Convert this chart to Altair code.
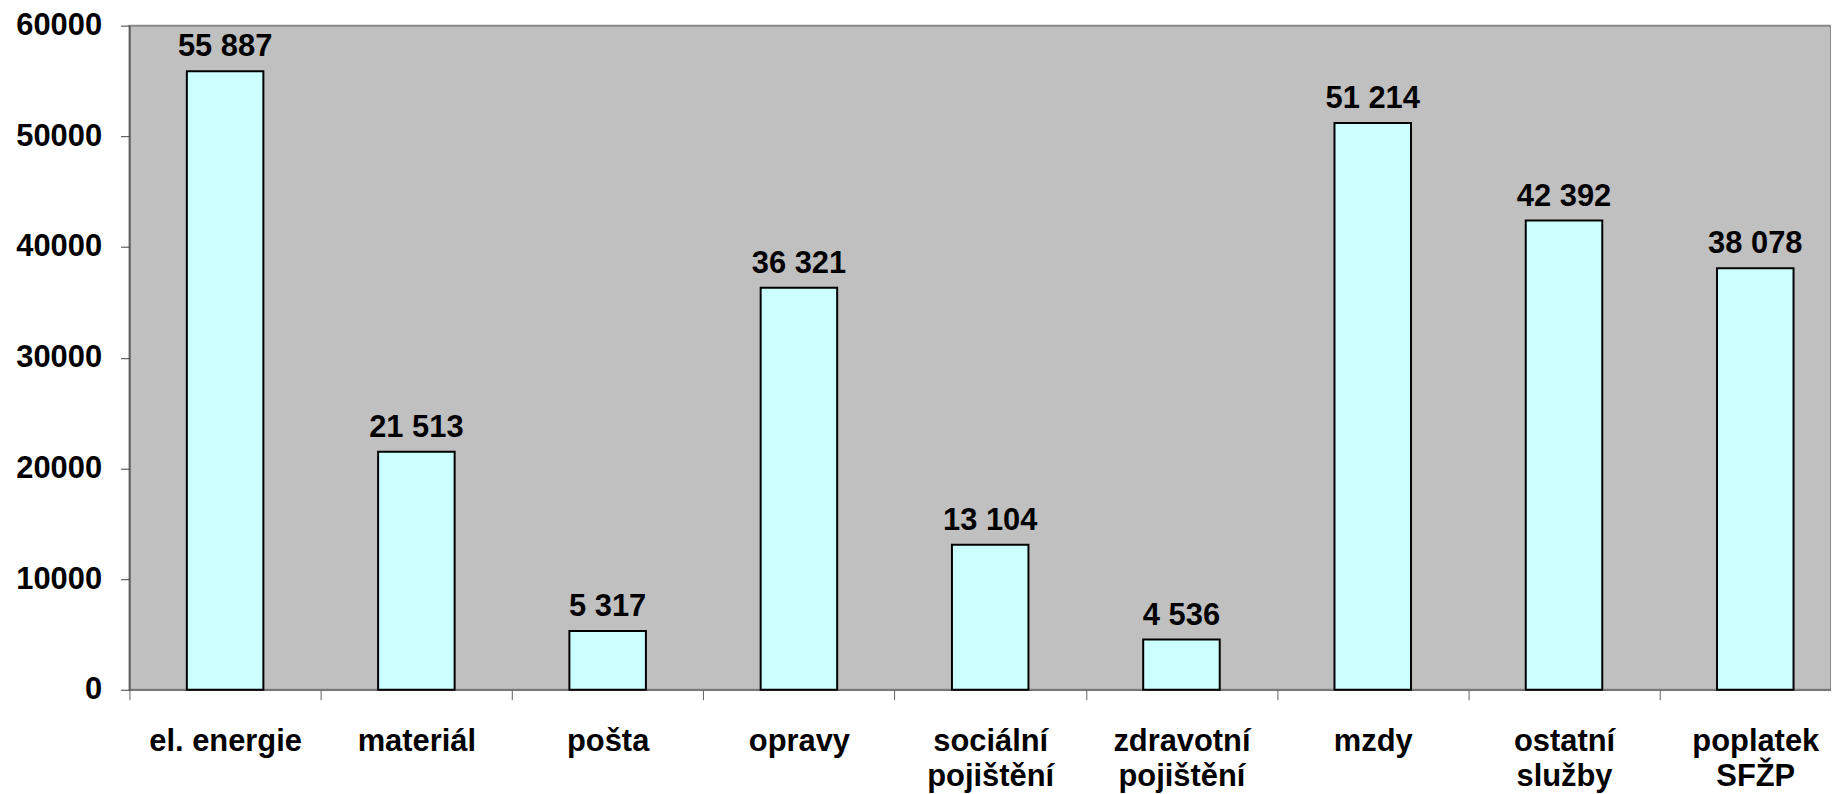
import altair as alt
import pandas as pd

categories = [
    "el. energie",
    "materiál",
    "pošta",
    "opravy",
    "sociální\npojištění",
    "zdravotní\npojištění",
    "mzdy",
    "ostatní\nslužby",
    "poplatek\nSFŽP",
]
values = [55887, 21513, 5317, 36321, 13104, 4536, 51214, 42392, 38078]
y_ticks = [0, 10000, 20000, 30000, 40000, 50000, 60000]

labels = [f"{v:,}".replace(",", " ") for v in values]
df = pd.DataFrame({"cat": categories, "val": values, "lab": labels})

FONT = "Liberation Sans"
FS = 31

x_enc = alt.X(
    "cat:N",
    sort=None,
    scale=alt.Scale(range=[0, 1729], paddingInner=0, paddingOuter=0),
    axis=alt.Axis(
        title=None,
        labelAngle=0,
        labelFont=FONT,
        labelFontSize=FS,
        labelFontWeight="bold",
        labelColor="#000000",
        labelPadding=27,
        labelLineHeight=35,
        labelOverlap=False,
        labelBound=False,
        labelFlush=False,
        labelExpr="split(datum.label, '\\n')",
        tickBand="extent",
        tickSize=10,
        tickColor="#606060",
        tickWidth=1,
        domainColor="#606060",
        domainWidth=1,
        grid=False,
    ),
)
y_enc = alt.Y(
    "val:Q",
    scale=alt.Scale(domain=[0, 60000], nice=False),
    axis=alt.Axis(
        title=None,
        values=y_ticks,
        format="d",
        labelFont=FONT,
        labelFontSize=FS,
        labelFontWeight="bold",
        labelColor="#000000",
        labelPadding=19,
        tickSize=9,
        tickColor="#404040",
        tickWidth=1,
        domainColor="#404040",
        domainWidth=1,
        grid=False,
    ),
)

bars = alt.Chart(df).mark_bar(
    width=alt.RelativeBandSize(0.4),
    color="#CCFFFF",
    stroke="#000000",
    strokeWidth=2,
).encode(x=x_enc, y=y_enc)

texts = alt.Chart(df).mark_text(
    font=FONT,
    fontSize=FS,
    fontWeight="bold",
    color="#000000",
    baseline="alphabetic",
    dy=-15,
).encode(x=alt.X("cat:N", sort=None), y="val:Q", text="lab:N")

chart = (
    alt.layer(bars, texts)
    .properties(
        width=1709,
        height=667,
        autosize=alt.AutoSizeParams(type="none"),
        padding={"left": 122, "top": 16, "right": 0, "bottom": 111},
    )
    .configure(background="#FFFFFF")
    .configure_view(fill="#C0C0C0", stroke="#888888", strokeWidth=2)
)

chart.save("out.html", embed_options={"renderer": "svg", "actions": False})
